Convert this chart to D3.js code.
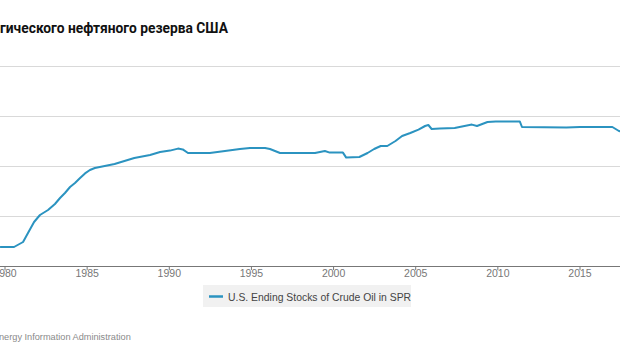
<!DOCTYPE html>
<html>
<head>
<meta charset="utf-8">
<script src="https://cdn.jsdelivr.net/npm/d3@7"></script>
<style>
  html, body { margin: 0; padding: 0; background: #fff; }
  svg { display: block; }
</style>
</head>
<body>
<svg id="chart" width="620" height="364"></svg>
<script>
// Data (million barrels)
const years = [1979.73, 1980.58, 1981.13, 1981.43, 1981.8, 1982.16, 1982.65, 1983.07, 1983.38, 1983.68, 1983.99, 1984.29, 1984.6, 1984.9, 1985.2, 1985.5, 1986.1, 1986.7, 1987.3, 1987.9, 1988.86, 1989.47, 1990.07, 1990.56, 1990.85, 1991.17, 1992.5, 1993.42, 1994.33, 1994.94, 1995.86, 1996.16, 1996.77, 1998.9, 1999.5, 1999.8, 2000.6, 2000.8, 2001.6, 2002.1, 2002.5, 2002.9, 2003.3, 2003.8, 2004.2, 2004.7, 2005.2, 2005.6, 2005.8, 2006.0, 2006.5, 2007.4, 2008.45, 2008.76, 2009.4, 2009.9, 2011.37, 2011.5, 2014.2, 2015.03, 2017.0, 2017.4, 2018.0];
const stocks = [95, 95, 120, 165, 220, 255, 280, 310, 340, 365, 395, 415, 440, 463, 480, 490, 500, 510, 525, 540, 555, 570, 577, 587, 583, 565, 565, 575, 585, 590, 590, 585, 565, 565, 575, 567, 567, 542, 545, 565, 585, 600, 600, 625, 650, 665, 682, 700, 705, 685, 688, 690, 707, 700, 720, 722, 722, 695, 693, 695, 695, 675, 660];
const xTicks = [1980, 1985, 1990, 1995, 2000, 2005, 2010, 2015];
const yTicks = [250, 500, 750, 1000];
const titleText = "гического нефтяного резерва США";
const legendLabel = "U.S. Ending Stocks of Crude Oil in SPR";
const sourceText = "nergy Information Administration";

const svg = d3.select("#chart");
const W = 620, H = 364;

const x = d3.scaleLinear().domain([1980, 2015]).range([4.5, 579.5]);
const y = d3.scaleLinear().domain([0, 1000]).range([266, 66]);

// title
svg.append("text")
  .attr("x", 0).attr("y", 33)
  .attr("font-family", "Roboto, 'Noto Sans', sans-serif")
  .attr("font-weight", "bold")
  .attr("font-size", 13.8)
  .attr("fill", "#111")
  .text(titleText);

// gridlines
svg.append("g").selectAll("line")
  .data(yTicks).join("line")
  .attr("x1", 0).attr("x2", W)
  .attr("y1", d => Math.round(y(d)) + 0.5).attr("y2", d => Math.round(y(d)) + 0.5)
  .attr("stroke", "#d9d9d9").attr("stroke-width", 1);

// x axis
const xAxis = d3.axisBottom(x).tickValues(xTicks).tickFormat(d3.format("d")).tickSize(4).tickSizeOuter(0);
const gx = svg.append("g").attr("transform", "translate(0,266)").call(xAxis);
gx.select(".domain").attr("d", `M-10,0.5H${W + 10}`).attr("stroke", "#777");
gx.selectAll(".tick line").attr("stroke", "#777");
gx.selectAll(".tick text")
  .attr("font-family", "Arial, 'Liberation Sans', sans-serif")
  .attr("font-size", 10.5).attr("fill", "#777").attr("dy", "0.6em").attr("y", 5);

// line
const line = d3.line().x((d, i) => x(years[i])).y(d => y(d));
svg.append("path")
  .datum(stocks)
  .attr("d", line)
  .attr("fill", "none")
  .attr("stroke", "#2b93c0")
  .attr("stroke-width", 2)
  .attr("stroke-linejoin", "round");

// legend
const lg = svg.append("g").attr("transform", "translate(203,285)");
lg.append("rect").attr("width", 208).attr("height", 22).attr("fill", "#f1f1f1");
lg.append("line").attr("x1", 6).attr("x2", 20).attr("y1", 11.5).attr("y2", 11.5)
  .attr("stroke", "#2b93c0").attr("stroke-width", 2.5);
lg.append("text").attr("x", 25).attr("y", 15.5)
  .attr("font-family", "Arial, 'Liberation Sans', sans-serif")
  .attr("font-size", 10.4).attr("fill", "#444")
  .text(legendLabel);

// source
svg.append("text").attr("x", -1).attr("y", 340)
  .attr("font-family", "Arial, 'Liberation Sans', sans-serif")
  .attr("font-size", 9.2).attr("fill", "#8a8a8a")
  .text(sourceText);
</script>
</body>
</html>
